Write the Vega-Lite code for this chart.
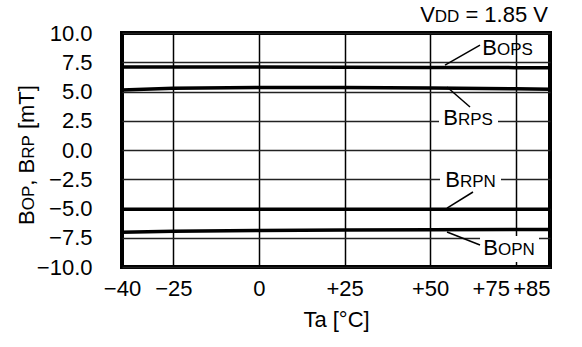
{
  "$schema": "https://vega.github.io/schema/vega-lite/v6.json",
  "width": 428,
  "height": 234,
  "autosize": {"type": "none"},
  "padding": {"left": 122, "top": 33, "right": 32, "bottom": 80},
  "background": "white",
  "config": {
    "view": {"stroke": "black", "strokeWidth": 4},
    "font": "Liberation Sans",
    "text": {"font": "Liberation Sans", "color": "black"}
  },
  "datasets": {
    "curves": [
      {"series": "BOPS", "x": -40, "y": 7.1}, {"series": "BOPS", "x": -25, "y": 7.1}, {"series": "BOPS", "x": 0, "y": 7.09}, {"series": "BOPS", "x": 25, "y": 7.08}, {"series": "BOPS", "x": 50, "y": 7.06}, {"series": "BOPS", "x": 75, "y": 7.04}, {"series": "BOPS", "x": 85, "y": 7.03},
      {"series": "BRPS", "x": -40, "y": 5.12}, {"series": "BRPS", "x": -25, "y": 5.28}, {"series": "BRPS", "x": 0, "y": 5.35}, {"series": "BRPS", "x": 25, "y": 5.35}, {"series": "BRPS", "x": 50, "y": 5.3}, {"series": "BRPS", "x": 75, "y": 5.23}, {"series": "BRPS", "x": 85, "y": 5.2},
      {"series": "BRPN", "x": -40, "y": -5.07}, {"series": "BRPN", "x": -25, "y": -5.07}, {"series": "BRPN", "x": 0, "y": -5.07}, {"series": "BRPN", "x": 25, "y": -5.07}, {"series": "BRPN", "x": 50, "y": -5.07}, {"series": "BRPN", "x": 75, "y": -5.07}, {"series": "BRPN", "x": 85, "y": -5.07},
      {"series": "BOPN", "x": -40, "y": -7.02}, {"series": "BOPN", "x": -25, "y": -6.95}, {"series": "BOPN", "x": 0, "y": -6.88}, {"series": "BOPN", "x": 25, "y": -6.84}, {"series": "BOPN", "x": 50, "y": -6.82}, {"series": "BOPN", "x": 75, "y": -6.8}, {"series": "BOPN", "x": 85, "y": -6.8}
    ],
    "boxes": [
      {"x": 52.58, "x2": 69.81, "y": 3.42, "y2": 1.54},
      {"x": 52.87, "x2": 70.69, "y": -1.54, "y2": -3.59},
      {"x": 64.56, "x2": 81.79, "y": -7.35, "y2": -9.57}
    ],
    "leaders": [
      {"x": 54.33, "x2": 64.56, "y": 7.26, "y2": 8.97},
      {"x": 54.92, "x2": 61.64, "y": 5.38, "y2": 3.68},
      {"x": 54.92, "x2": 62.51, "y": -4.96, "y2": -3.59},
      {"x": 54.92, "x2": 64.56, "y": -7.01, "y2": -8.12}
    ],
    "bigRight": [
      {"x": 69.52, "y": 8.12, "txt": "B"},
      {"x": 58.13, "y": 2.14, "txt": "B"},
      {"x": 58.71, "y": -3.14, "txt": "B"},
      {"x": 69.81, "y": -8.97, "txt": "B"},
      {"x": 51.36, "y": 10.94, "txt": "V"}
    ],
    "smallLeft": [
      {"x": 69.52, "y": 8.12, "txt": "OPS"},
      {"x": 58.13, "y": 2.14, "txt": "RPS"},
      {"x": 58.71, "y": -3.14, "txt": "RPN"},
      {"x": 69.81, "y": -8.97, "txt": "OPN"},
      {"x": 51.36, "y": 10.94, "txt": "DD"}
    ],
    "bigLeft": [
      {"x": 60.29, "y": 10.94, "txt": "= 1.85 V"}
    ],
    "ytBigRight": [
      {"x": -65.7, "y": -5.15, "txt": "B"},
      {"x": -65.7, "y": -0.75, "txt": ", B"}
    ],
    "ytSmallLeft": [
      {"x": -65.7, "y": -5.15, "txt": "OP"},
      {"x": -65.7, "y": -0.75, "txt": "RP"}
    ],
    "ytBigLeft": [
      {"x": -65.7, "y": 1.786, "txt": "[mT]"}
    ]
  },
  "encoding": {
    "x": {
      "field": "x", "type": "quantitative",
      "scale": {"domain": [-40, 85], "nice": false, "zero": false},
      "axis": {
        "values": [-40, -25, 0, 25, 50, 75, 85],
        "grid": true, "gridColor": "black", "gridWidth": 1.5,
        "ticks": false, "domain": false,
        "labelFont": "Liberation Sans", "labelFontSize": 22, "labelColor": "black",
        "labelPadding": 11, "labelOverlap": false, "labelBound": false, "labelFlush": false,
        "labelAlign": {"condition": {"test": "datum.value == 85", "value": "right"}, "value": "center"},
        "labelOffset": {"condition": {"test": "datum.value == 75", "value": -25}, "value": 0},
        "labelExpr": "datum.value > 0 ? '+' + datum.value : (datum.value < 0 ? '\u2212' + abs(datum.value) : '0')",
        "title": "Ta [°C]", "titleFont": "Liberation Sans", "titleFontSize": 22,
        "titleFontWeight": "normal", "titleColor": "black", "titlePadding": 10
      }
    },
    "y": {
      "field": "y", "type": "quantitative",
      "scale": {"domain": [-10, 10], "nice": false, "zero": false},
      "axis": {
        "values": [-10, -7.5, -5, -2.5, 0, 2.5, 5, 7.5, 10],
        "grid": true, "gridColor": "#222222", "gridWidth": 1.3,
        "ticks": false, "domain": false,
        "labelFont": "Liberation Sans", "labelFontSize": 22, "labelColor": "black",
        "labelPadding": 30, "labelOverlap": false, "labelBound": false, "labelFlush": false,
        "labelExpr": "replace(format(datum.value, '.1f'), '-', '\u2212')",
        "title": null
      }
    }
  },
  "layer": [
    {
      "data": {"name": "curves"},
      "mark": {"type": "line", "color": "black", "strokeWidth": 3.5, "clip": true},
      "encoding": {
        "detail": {"field": "series"}
      }
    },
    {
      "data": {"name": "boxes"},
      "mark": {"type": "rect", "fill": "white", "stroke": null},
      "encoding": {
        "x2": {"field": "x2"},
        "y2": {"field": "y2"}
      }
    },
    {
      "data": {"name": "leaders"},
      "mark": {"type": "rule", "color": "black", "strokeWidth": 1.5},
      "encoding": {
        "x2": {"field": "x2"},
        "y2": {"field": "y2"}
      }
    },
    {
      "data": {"name": "bigRight"},
      "mark": {"type": "text", "align": "right", "baseline": "alphabetic", "fontSize": 22, "clip": false},
      "encoding": {"text": {"field": "txt"}}
    },
    {
      "data": {"name": "smallLeft"},
      "mark": {"type": "text", "align": "left", "baseline": "alphabetic", "fontSize": 17, "clip": false},
      "encoding": {"text": {"field": "txt"}}
    },
    {
      "data": {"name": "bigLeft"},
      "mark": {"type": "text", "align": "left", "baseline": "alphabetic", "fontSize": 22, "clip": false},
      "encoding": {"text": {"field": "txt"}}
    },
    {
      "data": {"name": "ytBigRight"},
      "mark": {"type": "text", "align": "right", "baseline": "alphabetic", "fontSize": 22, "angle": 270, "clip": false},
      "encoding": {"text": {"field": "txt"}}
    },
    {
      "data": {"name": "ytSmallLeft"},
      "mark": {"type": "text", "align": "left", "baseline": "alphabetic", "fontSize": 17, "angle": 270, "clip": false},
      "encoding": {"text": {"field": "txt"}}
    },
    {
      "data": {"name": "ytBigLeft"},
      "mark": {"type": "text", "align": "left", "baseline": "alphabetic", "fontSize": 22, "angle": 270, "clip": false},
      "encoding": {"text": {"field": "txt"}}
    }
  ]
}
